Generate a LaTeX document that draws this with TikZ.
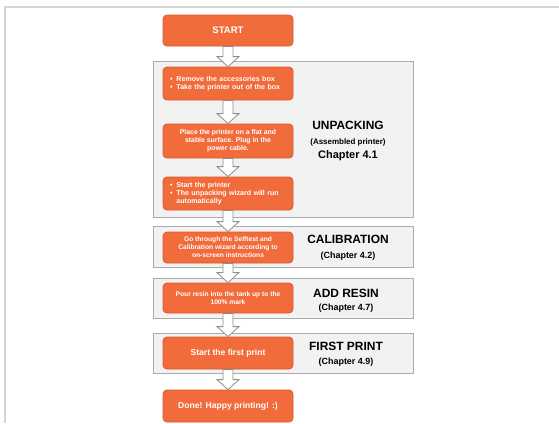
\documentclass[tikz,border=0pt]{standalone}
\usepackage{fontspec}
\setmainfont{Liberation Sans}
\usetikzlibrary{calc}
\definecolor{orfill}{HTML}{F26B3B}
\definecolor{ordraw}{HTML}{D65A2C}
\definecolor{panelfill}{HTML}{F2F2F2}
\definecolor{paneldraw}{HTML}{ABABAB}
\definecolor{arrdraw}{HTML}{8E8E8E}
\definecolor{framecol}{HTML}{D6D6D6}
\tikzset{
  stepbox/.style={draw=ordraw, fill=orfill, rounded corners=4bp, line width=0.8bp,
    minimum width=130bp, text=white, inner sep=0pt,
    font=\fontsize{6.9}{8}\selectfont\bfseries, align=center},
  panel/.style={draw=paneldraw, fill=panelfill, line width=0.8bp},
  blockarr/.style={draw=arrdraw, fill=white, line width=0.8bp, line join=miter},
  title/.style={font=\fontsize{12}{14}\selectfont\bfseries, inner sep=0pt},
  chap/.style={font=\fontsize{9}{11}\selectfont\bfseries, inner sep=0pt},
}
\newcommand\blockarrow[2]{%
  \draw[blockarr] let \p1=(#1.south), \p2=(#2.north) in
    (\x1-5bp,\y1) -- (\x1+5bp,\y1) -- (\x1+5bp,\y2+10bp) -- (\x1+11bp,\y2+10bp)
    -- (\x1,\y2) -- (\x1-11bp,\y2+10bp) -- (\x1-5bp,\y2+10bp) -- cycle;}
\newcommand\bl[1]{\begin{tabular}{@{}l@{\hspace{4bp}}l@{}}#1\end{tabular}}
\begin{document}
\begin{tikzpicture}[x=1bp,y=-1bp]
\useasboundingbox (0,0) rectangle (559,423);
\fill[white] (0,0) rectangle (559,423);
\draw[framecol, line width=1.5bp] (5,423) -- (5,7) -- (559,7);

% panels
\draw[panel] (153,61) rectangle (413,217);
\draw[panel] (153,226) rectangle (413,267);
\draw[panel] (153,278) rectangle (413,318);
\draw[panel] (153,333) rectangle (413,373);

% boxes
\node[stepbox, minimum height=31bp, font=\fontsize{9.6}{11}\selectfont\bfseries] (start) at (228,30.5) {START};
\node[stepbox, minimum height=33bp, text width=116bp, align=left, font=\fontsize{7.1}{8}\selectfont\bfseries] (b1) at (228,83.5)
  {\bl{\textbullet & Remove the accessories box\\ \textbullet & Take the printer out of the box}};
\node[stepbox, minimum height=34bp] (b2) at (228,141)
  {Place the printer on a flat and\\ stable surface. Plug in the\\ power cable.};
\node[stepbox, minimum height=33bp, text width=116bp, align=left, font=\fontsize{7.1}{8}\selectfont\bfseries] (b3) at (228,193.5)
  {\bl{\textbullet & Start the printer\\ \textbullet & The unpacking wizard will run\\ & automatically}};
\node[stepbox, minimum height=31bp, font=\fontsize{6.7}{8}\selectfont\bfseries] (b4) at (228,247.5)
  {Go through the Selftest and\\ Calibration wizard according to\\ on-screen instructions};
\node[stepbox, minimum height=30bp, font=\fontsize{6.7}{8}\selectfont\bfseries] (b5) at (228,298)
  {Pour resin into the tank up to the\\ 100\% mark};
\node[stepbox, minimum height=32bp, font=\fontsize{8.6}{10}\selectfont\bfseries] (b6) at (228,353)
  {Start the first print};
\node[stepbox, minimum height=32bp, font=\fontsize{8.6}{10}\selectfont\bfseries] (b7) at (228,406)
  {Done! Happy printing! :)};

% titles
\node[title] (t1) at (348,125) {UNPACKING};
\node[chap, font=\fontsize{8}{10}\selectfont\bfseries] (t1a) at (348,142) {(Assembled printer)};
\node[chap, font=\fontsize{11}{13}\selectfont\bfseries] (t1b) at (348,156) {Chapter 4.1};
\node[title] (t2) at (348,239.5) {CALIBRATION};
\node[chap] (t2a) at (348,256) {(Chapter 4.2)};
\node[title] (t3) at (346,293) {ADD RESIN};
\node[chap] (t3a) at (346,308) {(Chapter 4.7)};
\node[title] (t4) at (346,346) {FIRST PRINT};
\node[chap] (t4a) at (346,362.5) {(Chapter 4.9)};

% arrows
\blockarrow{start}{b1}
\blockarrow{b1}{b2}
\blockarrow{b2}{b3}
\blockarrow{b3}{b4}
\blockarrow{b4}{b5}
\blockarrow{b5}{b6}
\blockarrow{b6}{b7}
\end{tikzpicture}
\end{document}
